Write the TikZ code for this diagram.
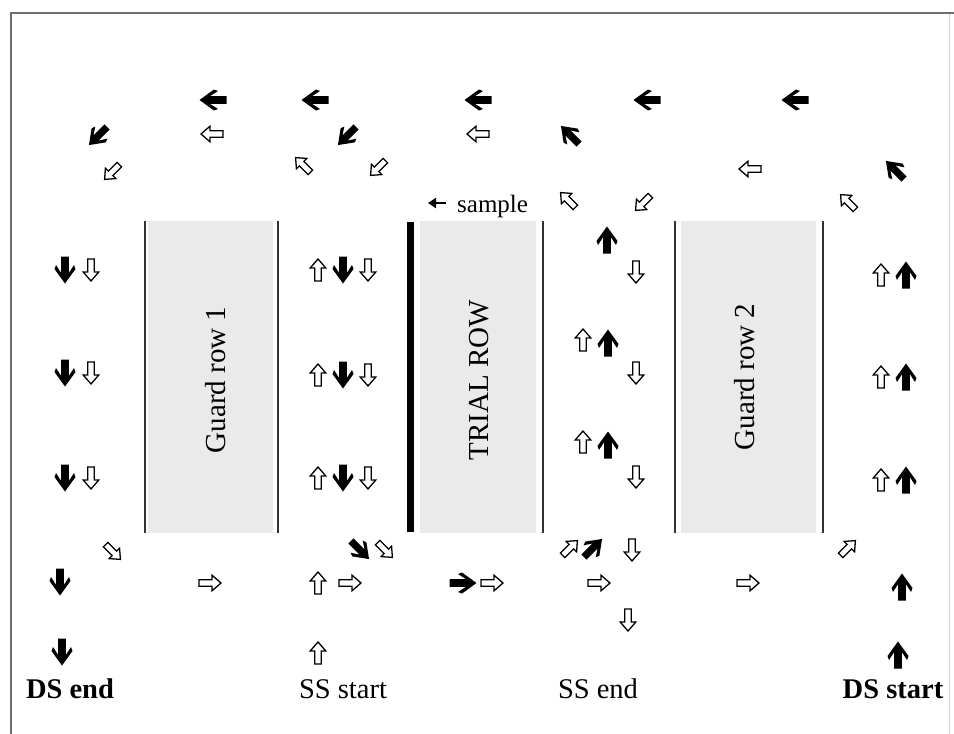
\documentclass[tikz,border=0pt]{standalone}
\usepackage{fontspec}
\setmainfont{Liberation Serif}
\usetikzlibrary{arrows.meta}
\definecolor{stripgray}{RGB}{234,234,234}
\definecolor{framegray}{RGB}{110,110,110}
\definecolor{rulegray}{RGB}{50,50,50}
\tikzset{
  % heavy black arrow, pointing along +x before rotation
  blk/.pic={\fill[black] (13.5,0) -- (-1,10.5) -- (-5,9) -- (3,3.8) -- (-13.5,3.8)
            -- (-13.5,-3.8) -- (3,-3.8) -- (-5,-9) -- (-1,-10.5) -- cycle;},
  % outlined block arrow, pointing along +x before rotation
  hol/.pic={\draw[black, line width=1.3, fill=white, line join=miter]
            (-11,3.3) -- (2,3.3) -- (2,7.8) -- (11,0) -- (2,-7.8) -- (2,-3.3) -- (-11,-3.3) -- cycle;},
  strip/.style={fill=stripgray, draw=none},
  rowline/.style={draw=rulegray, line width=1.3},
  rowlabel/.style={rotate=90, anchor=base, font=\fontsize{29}{31}\selectfont},
  endlabel/.style={anchor=base, font=\fontsize{28.5}{30}\selectfont},
}
\begin{document}
\begin{tikzpicture}[x=1pt, y=-1pt]
\useasboundingbox (0,0) rectangle (954,734);
\fill[white] (0,0) rectangle (954,734);

% frame
\draw[framegray, line width=2] (11,734) -- (11,13) -- (954,13);
\draw[gray!35, line width=1] (949,14) -- (949,734);

% plot strips
\fill[strip] (148,221) rectangle (273,533);
\fill[strip] (420,221) rectangle (536,533);
\fill[strip] (681,221) rectangle (816,533);

% row boundaries
\draw[rowline] (145,221) -- (145,533);
\draw[rowline] (278,221) -- (278,533);
\draw[black, line width=7] (410,222) -- (410,532);
\draw[rowline] (543,221) -- (543,533);
\draw[rowline] (675,221) -- (675,533);
\draw[rowline] (823,221) -- (823,533);

% row names
\node[rowlabel] (g1) at (225,380) {Guard row 1};
\node[rowlabel] (tr) at (488,380) {TRIAL ROW};
\node[rowlabel] (g2) at (754,377) {Guard row 2};

% end labels
\node[endlabel, font=\fontsize{28.5}{30}\selectfont\bfseries] (dsend) at (70,698) {DS end};
\node[endlabel] (ssstart) at (343,698) {SS start};
\node[endlabel] (ssend) at (598,698) {SS end};
\node[endlabel, font=\fontsize{28.5}{30}\selectfont\bfseries] (dsstart) at (893,698) {DS start};

% sample marker
\node[anchor=base west, font=\fontsize{25}{27}\selectfont, inner sep=0] (smp) at (457,212) {sample};
\coordinate (smptip) at (428,203);
\draw[line width=1.8, -{Triangle[length=8,width=10]}] ([xshift=-11]smp.west |- smptip) -- (smptip);

% heavy black arrows
\foreach \x/\y/\a in {213/100/180, 315/100/180, 478/100/180, 647/100/180, 795/100/180,
  65/270/270, 65/373/270, 65/478/270, 343/270/270, 343/375/270, 343/478/270,
  60/582/270, 62/652/270,
  607/240/90, 608/343/90, 608/445/90, 906/275/90, 906/377/90, 906/480/90,
  902/587/90, 898/655/90, 463/583/0}
  \pic[rotate=\a] at (\x,\y) {blk};
\foreach \x/\y/\a in {98/136/225, 347/136/225, 570/135/135, 895/170/135,
  360/550/315, 593/548/45}
  \pic[rotate=\a, scale=.95] at (\x,\y) {blk};

% outlined arrows
\foreach \x/\y/\a in {212/134/180, 478/134/180, 750/169/180,
  91/270/270, 91/373/270, 91/478/270, 368/270/270, 368/375/270, 368/478/270,
  636/272/270, 636/373/270, 636/477/270, 632/550/270, 628/620/270,
  318/270/90, 318/375/90, 318/478/90, 583/340/90, 583/442/90,
  881/275/90, 881/377/90, 881/480/90, 318/583/90, 318/653/90,
  210/583/0, 350/583/0, 492/583/0, 599/583/0, 748/583/0}
  \pic[rotate=\a] at (\x,\y) {hol};
\foreach \x/\y/\a in {112/172/225, 378/168/225, 643/203/225,
  303/165/135, 568/200/135, 848/202/135,
  113/552/315, 385/550/315, 570/548/45, 848/548/45}
  \pic[rotate=\a, scale=.95] at (\x,\y) {hol};
\end{tikzpicture}
\end{document}
